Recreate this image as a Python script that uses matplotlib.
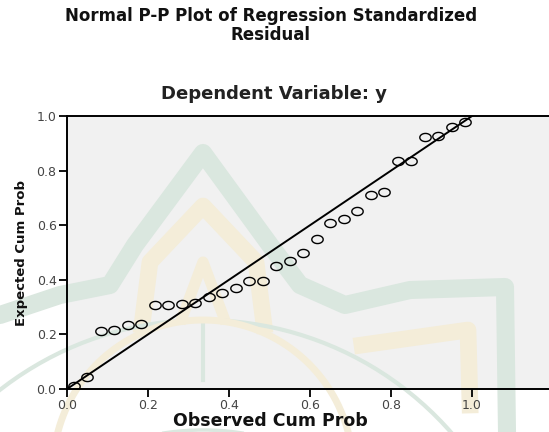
import numpy as np
import matplotlib.pyplot as plt
from matplotlib.path import Path
from matplotlib import rcParams

# observed vs expected cumulative probability
obs_cum = [0.017, 0.050, 0.083, 0.117, 0.150, 0.183, 0.217, 0.250, 0.283, 0.317,
           0.350, 0.383, 0.417, 0.450, 0.483, 0.517, 0.550, 0.583, 0.617, 0.650,
           0.683, 0.717, 0.750, 0.783, 0.817, 0.850, 0.883, 0.917, 0.950, 0.983]
exp_cum = [0.010, 0.045, 0.212, 0.215, 0.236, 0.239, 0.308, 0.309, 0.310, 0.315,
           0.338, 0.352, 0.370, 0.397, 0.397, 0.449, 0.468, 0.497, 0.548, 0.607,
           0.621, 0.652, 0.712, 0.722, 0.834, 0.834, 0.924, 0.925, 0.960, 0.978]
ticks = [0.0, 0.2, 0.4, 0.6, 0.8, 1.0]

rcParams['font.family'] = ['DejaVu Sans']

W, H = 549, 432
fig = plt.figure(figsize=(5.49, 4.32), dpi=100)

# background layer in pixel coords: grey plot area + faint watermark logo
bg = fig.add_axes([0, 0, 1, 1], zorder=-1)
bg.set_xlim(0, W)
bg.set_ylim(H, 0)
bg.axis('off')
bg.add_patch(plt.Rectangle((67, 116), W - 67, 273, color='#f1f1f1', lw=0))
green = '#dae7df'
beige = '#f4edd9'
bg.plot([0, 60, 110, 135, 203, 270, 300, 345, 410, 505, 507],
        [315, 295, 285, 245, 153, 245, 285, 305, 290, 287, 432],
        color=green, lw=13, solid_joinstyle='round', solid_capstyle='round')
bg.plot([142, 150, 203, 256, 264], [325, 262, 206, 262, 325],
        color=beige, lw=12, solid_joinstyle='round')
bg.plot([182, 203, 224], [318, 262, 318], color=beige, lw=8)
bg.plot([362, 468, 470], [345, 330, 405], color=beige, lw=12, solid_joinstyle='round')
th = np.linspace(np.pi * 1.05, np.pi * 1.95, 80)
bg.plot(203 + 330 * np.cos(th), 650 + 330 * np.sin(th), color=green, lw=3)
bg.plot(203 + 260 * np.cos(th), 690 + 260 * np.sin(th), color=green, lw=2.5)
bg.plot([203, 203], [322, 380], color=green, lw=3)
bg.plot(203 + 150 * np.cos(th), 470 + 150 * np.sin(th), color=beige, lw=5)

ax = fig.add_axes([67 / W, 1 - 389 / H, 1 - 67 / W, 273 / H])
ax.patch.set_visible(False)

# slightly wide open circle, like the SPSS marker
t = np.linspace(0, 2 * np.pi, 60)
ellipse = Path(np.column_stack([1.4 * np.cos(t), np.sin(t)]))

ax.plot([0, 1], [0, 1], color='black', lw=1.4, zorder=2)
ax.plot(obs_cum, exp_cum, linestyle='none', marker=ellipse, markersize=8.2,
        markerfacecolor='none', markeredgecolor='black', markeredgewidth=1.0, zorder=3)

ax.set_xlim(0, 1.19)
ax.set_ylim(0, 1.0)
ax.set_xticks(ticks)
ax.set_yticks(ticks)
ax.set_xticklabels(['%.1f' % v for v in ticks])
ax.set_yticklabels(['%.1f' % v for v in ticks])
ax.tick_params(direction='out', length=6, width=1.3, labelsize=9, colors='black',
               labelcolor='#444444', pad=1.5)
ax.spines['right'].set_visible(False)
for s in ['left', 'bottom', 'top']:
    ax.spines[s].set_linewidth(1.4)

ax.set_xlabel('Observed Cum Prob', fontsize=12.5, fontweight='bold', va='baseline',
              color='#111111')
ax.xaxis.set_label_coords((270 - 67) / 482, (389 - 426) / 273)
ax.set_ylabel('Expected Cum Prob', fontsize=9.5, fontweight='bold', color='#111111')
ax.yaxis.set_label_coords(-(67 - 28) / 482, 0.5)

fig.text(271 / W, 1 - 7 / H, 'Normal P-P Plot of Regression Standardized\nResidual',
         ha='center', va='top', fontsize=12, fontweight='bold', linespacing=1.05,
         color='#111111')
fig.text(274 / W, 1 - 94 / H, 'Dependent Variable: y', ha='center', va='center',
         fontsize=13, fontweight='bold', color='#222222')

fig.savefig('out.png', dpi=100)
